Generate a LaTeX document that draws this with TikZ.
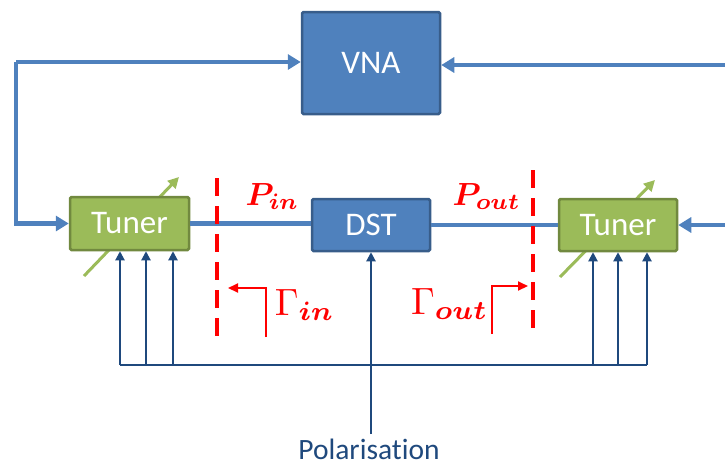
\documentclass[tikz,border=0pt]{standalone}
\usepackage{amsmath,bm}
\usepackage[no-math]{fontspec}
\setmainfont{Carlito}[Ligatures=NoCommon]
\usetikzlibrary{arrows.meta}
\definecolor{boxblue}{HTML}{4F81BD}
\definecolor{boxblueedge}{HTML}{385D8A}
\definecolor{tunergreen}{HTML}{9BBB59}
\definecolor{tuneredge}{HTML}{71893F}
\definecolor{ctrlblue}{HTML}{1F497D}
\definecolor{refred}{HTML}{FF0000}
\tikzset{
  blockbase/.style={line width=2.5pt, rounded corners=1.5pt, text=white, inner sep=0pt,
    font=\fontsize{33}{36}\selectfont},
  bluebox/.style={blockbase, draw=boxblueedge, fill=boxblue},
  tunerbox/.style={blockbase, draw=tuneredge, fill=tunergreen},
  feed/.style={draw=boxblue, line width=4.5pt, -{Triangle[length=13pt,width=15pt]}},
  ctrl/.style={draw=ctrlblue, line width=2pt, -{Triangle[length=9pt,width=9pt]}},
  refplane/.style={draw=refred, line width=3.5pt, dash pattern=on 18pt off 10pt},
  gamarrow/.style={draw=refred, line width=2pt, -{Triangle[length=10pt,width=9pt]}},
  knob/.style={draw=tunergreen, line width=3pt, -{Triangle[length=11pt,width=11pt]}},
  redlabel/.style={text=refred, inner sep=0pt, font=\fontsize{10}{12}\selectfont}
}
\begin{document}
\begin{tikzpicture}[x=1pt,y=-1pt]
\useasboundingbox (0,0) rectangle (725,464);

% adjustment arrows of the tuners (drawn behind the boxes)
\coordinate (lk1) at (84,276);  \coordinate (lk2) at (179,177);
\coordinate (rk1) at (560,277); \coordinate (rk2) at (655,180);
\draw[knob] (lk1) -- (lk2);
\draw[knob] (rk1) -- (rk2);

% blocks
\node[bluebox, minimum width=138pt, minimum height=102pt] (vna) at (371,63) {VNA};
\node[tunerbox, minimum width=119pt, minimum height=53pt] (ltuner) at (129.5,223.5) {Tuner};
\node[tunerbox, minimum width=118pt, minimum height=52pt] (rtuner) at (618,225) {Tuner};
\node[bluebox, minimum width=118pt, minimum height=52pt] (dst) at (371,225) {DST};
\node[text=ctrlblue, inner sep=0pt, anchor=base, text depth=0pt,
      font=\fontsize{29.5}{32}\selectfont] (pol) at (369,459) {Polarisation};

% RF paths
\coordinate (lc) at (16,62);
\draw[feed] (lc) -- (lc -| vna.west);
\draw[feed] (lc) |- (ltuner.west);
\coordinate (rc) at (725,65);
\draw[feed] (rc) -- (rc -| vna.east);
\coordinate (rc2) at (725,225);
\draw[feed] (rc2) -- (rtuner.east);
\draw[draw=boxblue, line width=4.5pt] (ltuner.east) -- (ltuner.east -| dst.west);
\draw[draw=boxblue, line width=4.5pt] (dst.east) -- (rtuner.west);

% control bus
\coordinate (b1) at (120,365); \coordinate (b2) at (146,365); \coordinate (b3) at (173,365);
\coordinate (b4) at (593,365); \coordinate (b5) at (618,365); \coordinate (b6) at (647,365);
\draw[ctrlblue, line width=2pt] (b1) -- (b6);
\foreach \b in {b1,b2,b3} \draw[ctrl] (\b) -- (\b |- ltuner.south);
\foreach \b in {b4,b5,b6} \draw[ctrl] (\b) -- (\b |- rtuner.south);
\coordinate (pt) at (371,434);
\draw[ctrl] (pt) -- (dst.south);

% reference planes
\coordinate (pl1) at (217,178); \coordinate (pl2) at (217,345);
\coordinate (pr1) at (533,170); \coordinate (pr2) at (533,336);
\draw[refplane] (pl1) -- (pl2);
\draw[refplane] (pr1) -- (pr2);

% reflection coefficients
\coordinate (gi0) at (266,337); \coordinate (gi1) at (228,288);
\draw[gamarrow] (gi0) |- (gi1);
\coordinate (go0) at (492,334); \coordinate (go1) at (528,286);
\draw[gamarrow] (go0) |- (go1);

% labels
\node[redlabel, anchor=base west, scale=3.2] (pin) at (245,205) {$\bm{P_{in}}$};
\node[redlabel, anchor=base west, scale=3.2] (pout) at (452,205) {$\bm{P_{out}}$};
\node[redlabel, anchor=base west, scale=3.8] (gin) at (274,315) {$\Gamma_{\bm{in}}$};
\node[redlabel, anchor=base east, scale=3.8] (gout) at (489,314) {$\Gamma_{\bm{out}}$};
\end{tikzpicture}
\end{document}
